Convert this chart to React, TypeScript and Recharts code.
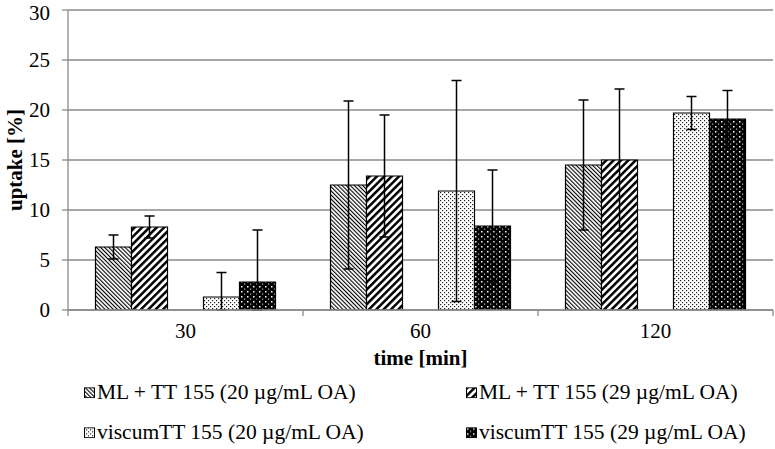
import React from 'react'
import {
  BarChart,
  Bar,
  XAxis,
  YAxis,
  CartesianGrid,
  ErrorBar,
  Label,
} from 'recharts'

const times = ['30', '60', '120']
const mlTt20 = [6.3, 12.5, 14.5]
const mlTt20Err = [1.2, 8.4, 6.5]
const mlTt29 = [8.3, 13.4, 15.0]
const mlTt29Err = [1.1, 6.1, 7.1]
const viscum20 = [1.3, 11.9, 19.7]
const viscum20Err = [2.45, 11.05, 1.65]
const viscum29 = [2.8, 8.4, 19.1]
const viscum29Err = [5.2, 5.6, 2.85]
const yTicks = [0, 5, 10, 15, 20, 25, 30]

const seriesNames = [
  'ML + TT 155 (20 µg/mL OA)',
  'ML + TT 155 (29 µg/mL OA)',
  'viscumTT 155 (20 µg/mL OA)',
  'viscumTT 155 (29 µg/mL OA)',
]
const fills = ['url(#hatchThin)', 'url(#hatchThick)', 'url(#dotsLight)', 'url(#dotsDark)']

const data = times.map((t, i) => ({
  time: t,
  a: mlTt20[i],
  aErr: mlTt20Err[i],
  b: mlTt29[i],
  bErr: mlTt29Err[i],
  gap: 0,
  c: viscum20[i],
  cErr: viscum20Err[i],
  d: viscum29[i],
  dErr: viscum29Err[i],
}))

const W = 775
const H = 449
const LEFT = 68
const RIGHT = 2
const BAND = (W - LEFT - RIGHT) / times.length
const FONT = '"Liberation Serif", "Times New Roman", serif'
const GRID = '#8a8a8a'

// keep the lower whisker from going under the axis
const clipErr = (v: string, e: string) => (row: any) => [Math.min(row[e], row[v]), row[e]]

const CategoryTick = (props: any) => {
  const { x, y, payload, index } = props
  return (
    <g>
      <line x1={x - BAND / 2} x2={x - BAND / 2} y1={y - 8} y2={y - 2} stroke={GRID} strokeWidth={1.3} />
      {index === times.length - 1 && (
        <line x1={x + BAND / 2} x2={x + BAND / 2} y1={y - 8} y2={y - 2} stroke={GRID} strokeWidth={1.3} />
      )}
      <text x={x} y={y + 20} textAnchor="middle" fontFamily={FONT} fontSize={21} fill="#000">
        {payload.value}
      </text>
    </g>
  )
}

const Patterns = () => (
  <svg width={0} height={0} style={{ position: 'absolute' }}>
    <defs>
      <pattern id="hatchThin" width={2.9} height={2.9} patternUnits="userSpaceOnUse" patternTransform="rotate(-45)">
        <rect width={2.9} height={2.9} fill="#fff" />
        <rect width={1.1} height={2.9} fill="#000" />
      </pattern>
      <pattern id="hatchThick" width={5.2} height={5.2} patternUnits="userSpaceOnUse" patternTransform="rotate(45)">
        <rect width={5.2} height={5.2} fill="#fff" />
        <rect width={2.5} height={5.2} fill="#000" />
      </pattern>
      <pattern id="dotsLight" width={4} height={4} patternUnits="userSpaceOnUse">
        <rect width={4} height={4} fill="#fff" />
        <rect x={0} y={0} width={1.2} height={1.2} fill="#222" />
        <rect x={2} y={2} width={1.2} height={1.2} fill="#222" />
      </pattern>
      <pattern id="dotsDark" width={6} height={5} patternUnits="userSpaceOnUse">
        <rect width={6} height={5} fill="#000" />
        <rect x={1} y={1} width={1.5} height={1.5} fill="#fff" />
        <rect x={4} y={3.5} width={1.2} height={1.2} fill="#bbb" />
      </pattern>
    </defs>
  </svg>
)

const legendSpots = [
  { left: 84, top: 393 },
  { left: 466, top: 393 },
  { left: 84, top: 433 },
  { left: 466, top: 433 },
]

export default function App() {
  const keys = ['a', 'b', 'c', 'd']
  return (
    <div style={{ position: 'absolute', left: 0, top: 0, width: W, height: H, background: '#fff' }}>
      <Patterns />
      <BarChart
        width={W}
        height={H}
        data={data}
        margin={{ top: 10, right: RIGHT, left: 0, bottom: 84 }}
        barGap={0}
        barCategoryGap={27.5}
      >
        <CartesianGrid vertical={false} stroke={GRID} strokeWidth={1.3} />
        <XAxis
          dataKey="time"
          height={55}
          tickLine={false}
          axisLine={{ stroke: GRID, strokeWidth: 1.3 }}
          tick={<CategoryTick />}
          interval={0}
        >
          <Label
            value="time [min]"
            position="insideBottom"
            offset={0}
            style={{ fontFamily: FONT, fontSize: 21, fontWeight: 'bold', fill: '#000' }}
          />
        </XAxis>
        <YAxis
          width={LEFT}
          domain={[0, 30]}
          ticks={yTicks}
          allowDataOverflow
          tickSize={6}
          tickMargin={12}
          tickLine={{ stroke: GRID, strokeWidth: 1.3 }}
          axisLine={{ stroke: GRID, strokeWidth: 1.3 }}
          tick={{ fontFamily: FONT, fontSize: 21, fill: '#000' }}
        >
          <Label
            value="uptake [%]"
            angle={-90}
            position="insideLeft"
            offset={15}
            style={{ fontFamily: FONT, fontSize: 21, fontWeight: 'bold', fill: '#000', textAnchor: 'middle' }}
          />
        </YAxis>
        <Bar dataKey="a" fill={fills[0]} stroke="#000" strokeWidth={1.2} isAnimationActive={false}>
          <ErrorBar dataKey={clipErr('a', 'aErr')} width={5} stroke="#000" strokeWidth={1.5} />
        </Bar>
        <Bar dataKey="b" fill={fills[1]} stroke="#000" strokeWidth={1.2} isAnimationActive={false}>
          <ErrorBar dataKey={clipErr('b', 'bErr')} width={5} stroke="#000" strokeWidth={1.5} />
        </Bar>
        <Bar dataKey="gap" fill="none" stroke="none" isAnimationActive={false} />
        <Bar dataKey="c" fill={fills[2]} stroke="#000" strokeWidth={1.2} isAnimationActive={false}>
          <ErrorBar dataKey={clipErr('c', 'cErr')} width={5} stroke="#000" strokeWidth={1.5} />
        </Bar>
        <Bar dataKey="d" fill={fills[3]} stroke="#000" strokeWidth={1.2} isAnimationActive={false}>
          <ErrorBar dataKey={clipErr('d', 'dErr')} width={5} stroke="#000" strokeWidth={1.5} />
        </Bar>
      </BarChart>
      {keys.map((k, i) => (
        <div
          key={k}
          style={{
            position: 'absolute',
            left: legendSpots[i].left,
            top: legendSpots[i].top,
            transform: 'translateY(-50%)',
            display: 'flex',
            alignItems: 'center',
            fontFamily: FONT,
            fontSize: 21.5,
            whiteSpace: 'nowrap',
            lineHeight: 1,
          }}
        >
          <svg width={11} height={11} style={{ marginRight: 2 }}>
            <rect x={0.5} y={0.5} width={10} height={10} fill={fills[i]} stroke="#000" strokeWidth={1} />
          </svg>
          <span>{seriesNames[i]}</span>
        </div>
      ))}
    </div>
  )
}
